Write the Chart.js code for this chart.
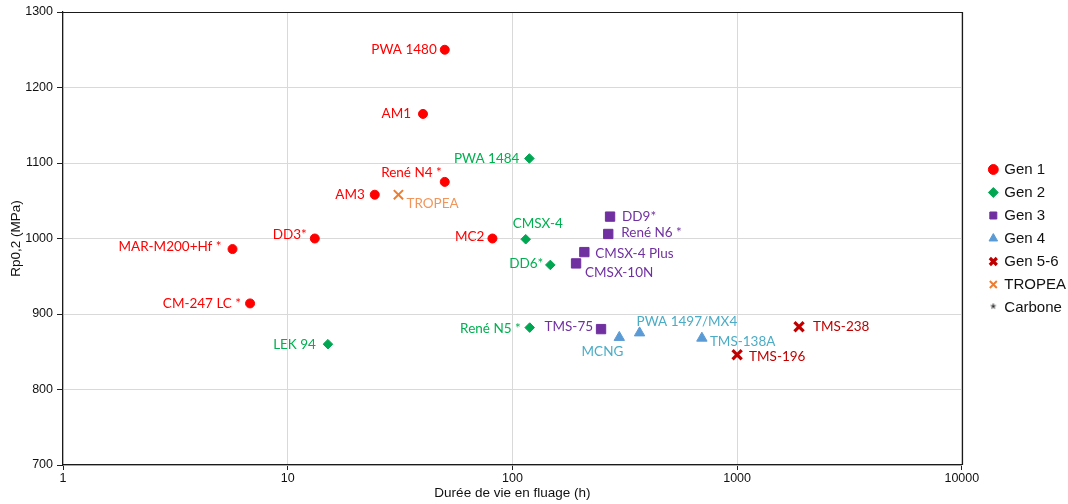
<!DOCTYPE html>
<html>
<head>
<meta charset="utf-8">
<script src="https://cdn.jsdelivr.net/npm/chart.js@4"></script>
<style>
  html, body { margin: 0; padding: 0; background: #fff; }
  canvas { display: block; }
</style>
</head>
<body>
<canvas id="c" width="1068" height="504"></canvas>
<script>
// ---- Data ----
const gen1Names = ['PWA 1480', 'AM1', 'René N4 *', 'AM3', 'DD3*', 'MC2', 'MAR-M200+Hf *', 'CM-247 LC *'];
const gen1Life  = [50, 40, 50, 24.4, 13.2, 81.5, 5.68, 6.8];
const gen1Rp    = [1250, 1165, 1075, 1058, 1000, 1000, 986, 914];

const gen2Names = ['PWA 1484', 'CMSX-4', 'DD6*', 'René N5 *', 'LEK 94'];
const gen2Life  = [119, 114.6, 147.5, 119.4, 15.1];
const gen2Rp    = [1106, 999, 965, 882, 860];

const gen3Names = ['DD9*', 'René N6 *', 'CMSX-4 Plus', 'CMSX-10N', 'TMS-75'];
const gen3Life  = [272, 267, 209, 192, 248];
const gen3Rp    = [1029, 1006, 982, 967, 880];

const gen4Names = ['MCNG', 'PWA 1497/MX4', 'TMS-138A'];
const gen4Life  = [299, 368, 697];
const gen4Rp    = [869, 875, 868];

const gen56Names = ['TMS-196', 'TMS-238'];
const gen56Life  = [1000, 1886];
const gen56Rp    = [846, 883];

const tropeaNames = ['TROPEA'];
const tropeaLife  = [31.1];
const tropeaRp    = [1058];

const seriesNames = ['Gen 1', 'Gen 2', 'Gen 3', 'Gen 4', 'Gen 5-6', 'TROPEA', 'Carbone'];
const xTickValues = [1, 10, 100, 1000, 10000];

// ---- Label placement (style, separate from data): [align, dx, dy] ----
const gen1LabelPos  = [['right',-8,0],['right',-12,0],['right',-3,-9],['right',-10,0],['right',-8,-4],['right',-8,-2],['right',-11,-2],['right',-9,0]];
const gen2LabelPos  = [['right',-10,0],['left',-13,-16],['right',-7,-1],['right',-9,1],['right',-12,0]];
const gen3LabelPos  = [['left',12,0],['left',13,-1],['left',11,2],['left',9,9],['right',-8,-2]];
const gen4LabelPos  = [['right',4,14],['left',-3,-11],['left',8,3]];
const gen56LabelPos = [['left',12,2],['left',14,0]];
const tropeaLabelPos = [['left',8,9]];

const pts = (xs, ys) => xs.map((x, i) => ({ x: x, y: ys[i] }));

// asterisk marker for the "Carbone" legend entry
const star = document.createElement('canvas');
star.width = 12; star.height = 12;
(function () {
  const g = star.getContext('2d');
  g.fillStyle = '#000';
  g.font = '15px "Liberation Sans", Arial, sans-serif';
  g.textAlign = 'center';
  g.textBaseline = 'middle';
  g.fillText('*', 6, 8);
})();

const datasets = [
  { label: seriesNames[0], data: pts(gen1Life, gen1Rp), names: gen1Names, lpos: gen1LabelPos, lcolor: '#FF0000',
    pointStyle: 'circle', backgroundColor: '#FF0000', borderColor: '#FF0000', pointRadius: 4.5, borderWidth: 1 },
  { label: seriesNames[1], data: pts(gen2Life, gen2Rp), names: gen2Names, lpos: gen2LabelPos, lcolor: '#00B050',
    pointStyle: 'rectRot', backgroundColor: '#00A651', borderColor: '#00A651', pointRadius: 4.8, borderWidth: 1 },
  { label: seriesNames[2], data: pts(gen3Life, gen3Rp), names: gen3Names, lpos: gen3LabelPos, lcolor: '#7030A0',
    pointStyle: 'rect', backgroundColor: '#7030A0', borderColor: '#7030A0', pointRadius: 6.6, borderWidth: 1 },
  { label: seriesNames[3], data: pts(gen4Life, gen4Rp), names: gen4Names, lpos: gen4LabelPos, lcolor: '#4BACC6',
    pointStyle: 'triangle', backgroundColor: '#5B9BD5', borderColor: '#5B9BD5', pointRadius: 6, borderWidth: 1 },
  { label: seriesNames[4], data: pts(gen56Life, gen56Rp), names: gen56Names, lpos: gen56LabelPos, lcolor: '#C00000',
    pointStyle: 'crossRot', backgroundColor: '#C00000', borderColor: '#C00000', pointRadius: 6.5, borderWidth: 3.2 },
  { label: seriesNames[5], data: pts(tropeaLife, tropeaRp), names: tropeaNames, lpos: tropeaLabelPos, lcolor: '#F2955A',
    pointStyle: 'crossRot', backgroundColor: '#ED7D31', borderColor: '#ED7D31', pointRadius: 6.5, borderWidth: 2 },
  { label: seriesNames[6], data: [], names: [], lpos: [], lcolor: '#000',
    pointStyle: star, backgroundColor: '#000', borderColor: '#000', pointRadius: 4, borderWidth: 0 }
];

const labelPlugin = {
  id: 'pointLabels',
  afterDatasetsDraw(chart) {
    const ctx = chart.ctx;
    ctx.save();
    ctx.font = '13.5px Lato, "Open Sans", sans-serif';
    ctx.textBaseline = 'middle';
    chart.data.datasets.forEach((ds, di) => {
      const meta = chart.getDatasetMeta(di);
      meta.data.forEach((el, i) => {
        const name = ds.names[i];
        if (!name) return;
        const p = ds.lpos[i];
        ctx.fillStyle = ds.lcolor;
        ctx.textAlign = p[0];
        ctx.fillText(name, el.x + p[1], el.y + p[2]);
      });
    });
    ctx.restore();
  }
};

const framePlugin = {
  id: 'frame',
  beforeDatasetsDraw(chart) {
    const a = chart.chartArea, ctx = chart.ctx;
    ctx.save();
    ctx.strokeStyle = '#1a1a1a';
    ctx.lineWidth = 1.2;
    ctx.beginPath();
    ctx.moveTo(a.left, Math.round(a.top) + 0.5);
    ctx.lineTo(Math.round(a.right) + 0.5, Math.round(a.top) + 0.5);
    ctx.lineTo(Math.round(a.right) + 0.5, a.bottom);
    ctx.stroke();
    ctx.restore();
  }
};

const axisFont = { family: '"Liberation Sans", Arial, sans-serif', size: 12.5 };

new Chart(document.getElementById('c'), {
  type: 'scatter',
  data: { datasets: datasets },
  plugins: [labelPlugin, framePlugin],
  options: {
    responsive: false,
    animation: false,
    layout: { padding: { top: 12, right: -8, bottom: 0, left: 0 } },
    plugins: {
      tooltip: { enabled: false },
      legend: {
        position: 'right',
        fullSize: false,
        labels: {
          usePointStyle: true,
          boxWidth: 7,
          boxHeight: 7,
          padding: 8,
          color: '#111',
          font: { family: '"Liberation Sans", Arial, sans-serif', size: 15 }
        }
      }
    },
    scales: {
      x: {
        type: 'logarithmic',
        min: 1,
        max: 10000,
        afterBuildTicks: (s) => { s.ticks = xTickValues.map(v => ({ value: v })); },
        afterFit: (s) => { s.height = 39; },
        ticks: { color: '#111', font: axisFont, padding: 1, maxRotation: 0, autoSkip: false,
                 callback: (v) => String(v) },
        grid: { color: '#D9D9D9', lineWidth: 1, tickLength: 5, tickColor: '#222' },
        border: { color: '#1a1a1a', width: 1.2 },
        title: { display: true, text: 'Durée de vie en fluage (h)', color: '#111',
                 font: { family: '"Liberation Sans", Arial, sans-serif', size: 13.5 },
                 padding: { top: 0, bottom: 3 } }
      },
      y: {
        type: 'linear',
        min: 700,
        max: 1300,
        afterFit: (s) => { s.width = 63; },
        ticks: { stepSize: 100, color: '#111', font: axisFont, padding: 4,
                 callback: (v) => String(v) },
        grid: { color: '#D9D9D9', lineWidth: 1, tickLength: 6, tickColor: '#222' },
        border: { color: '#1a1a1a', width: 1.2 },
        title: { display: true, text: 'Rp0,2 (MPa)', color: '#111',
                 font: { family: '"Liberation Sans", Arial, sans-serif', size: 13.5 },
                 padding: { top: 8, bottom: 0 } }
      },
      sp: {
        type: 'linear',
        position: 'right',
        afterFit: (s) => { s.width = 20; },
        ticks: { display: false },
        grid: { display: false, drawTicks: false },
        border: { display: false }
      }
    }
  }
});
</script>
</body>
</html>
